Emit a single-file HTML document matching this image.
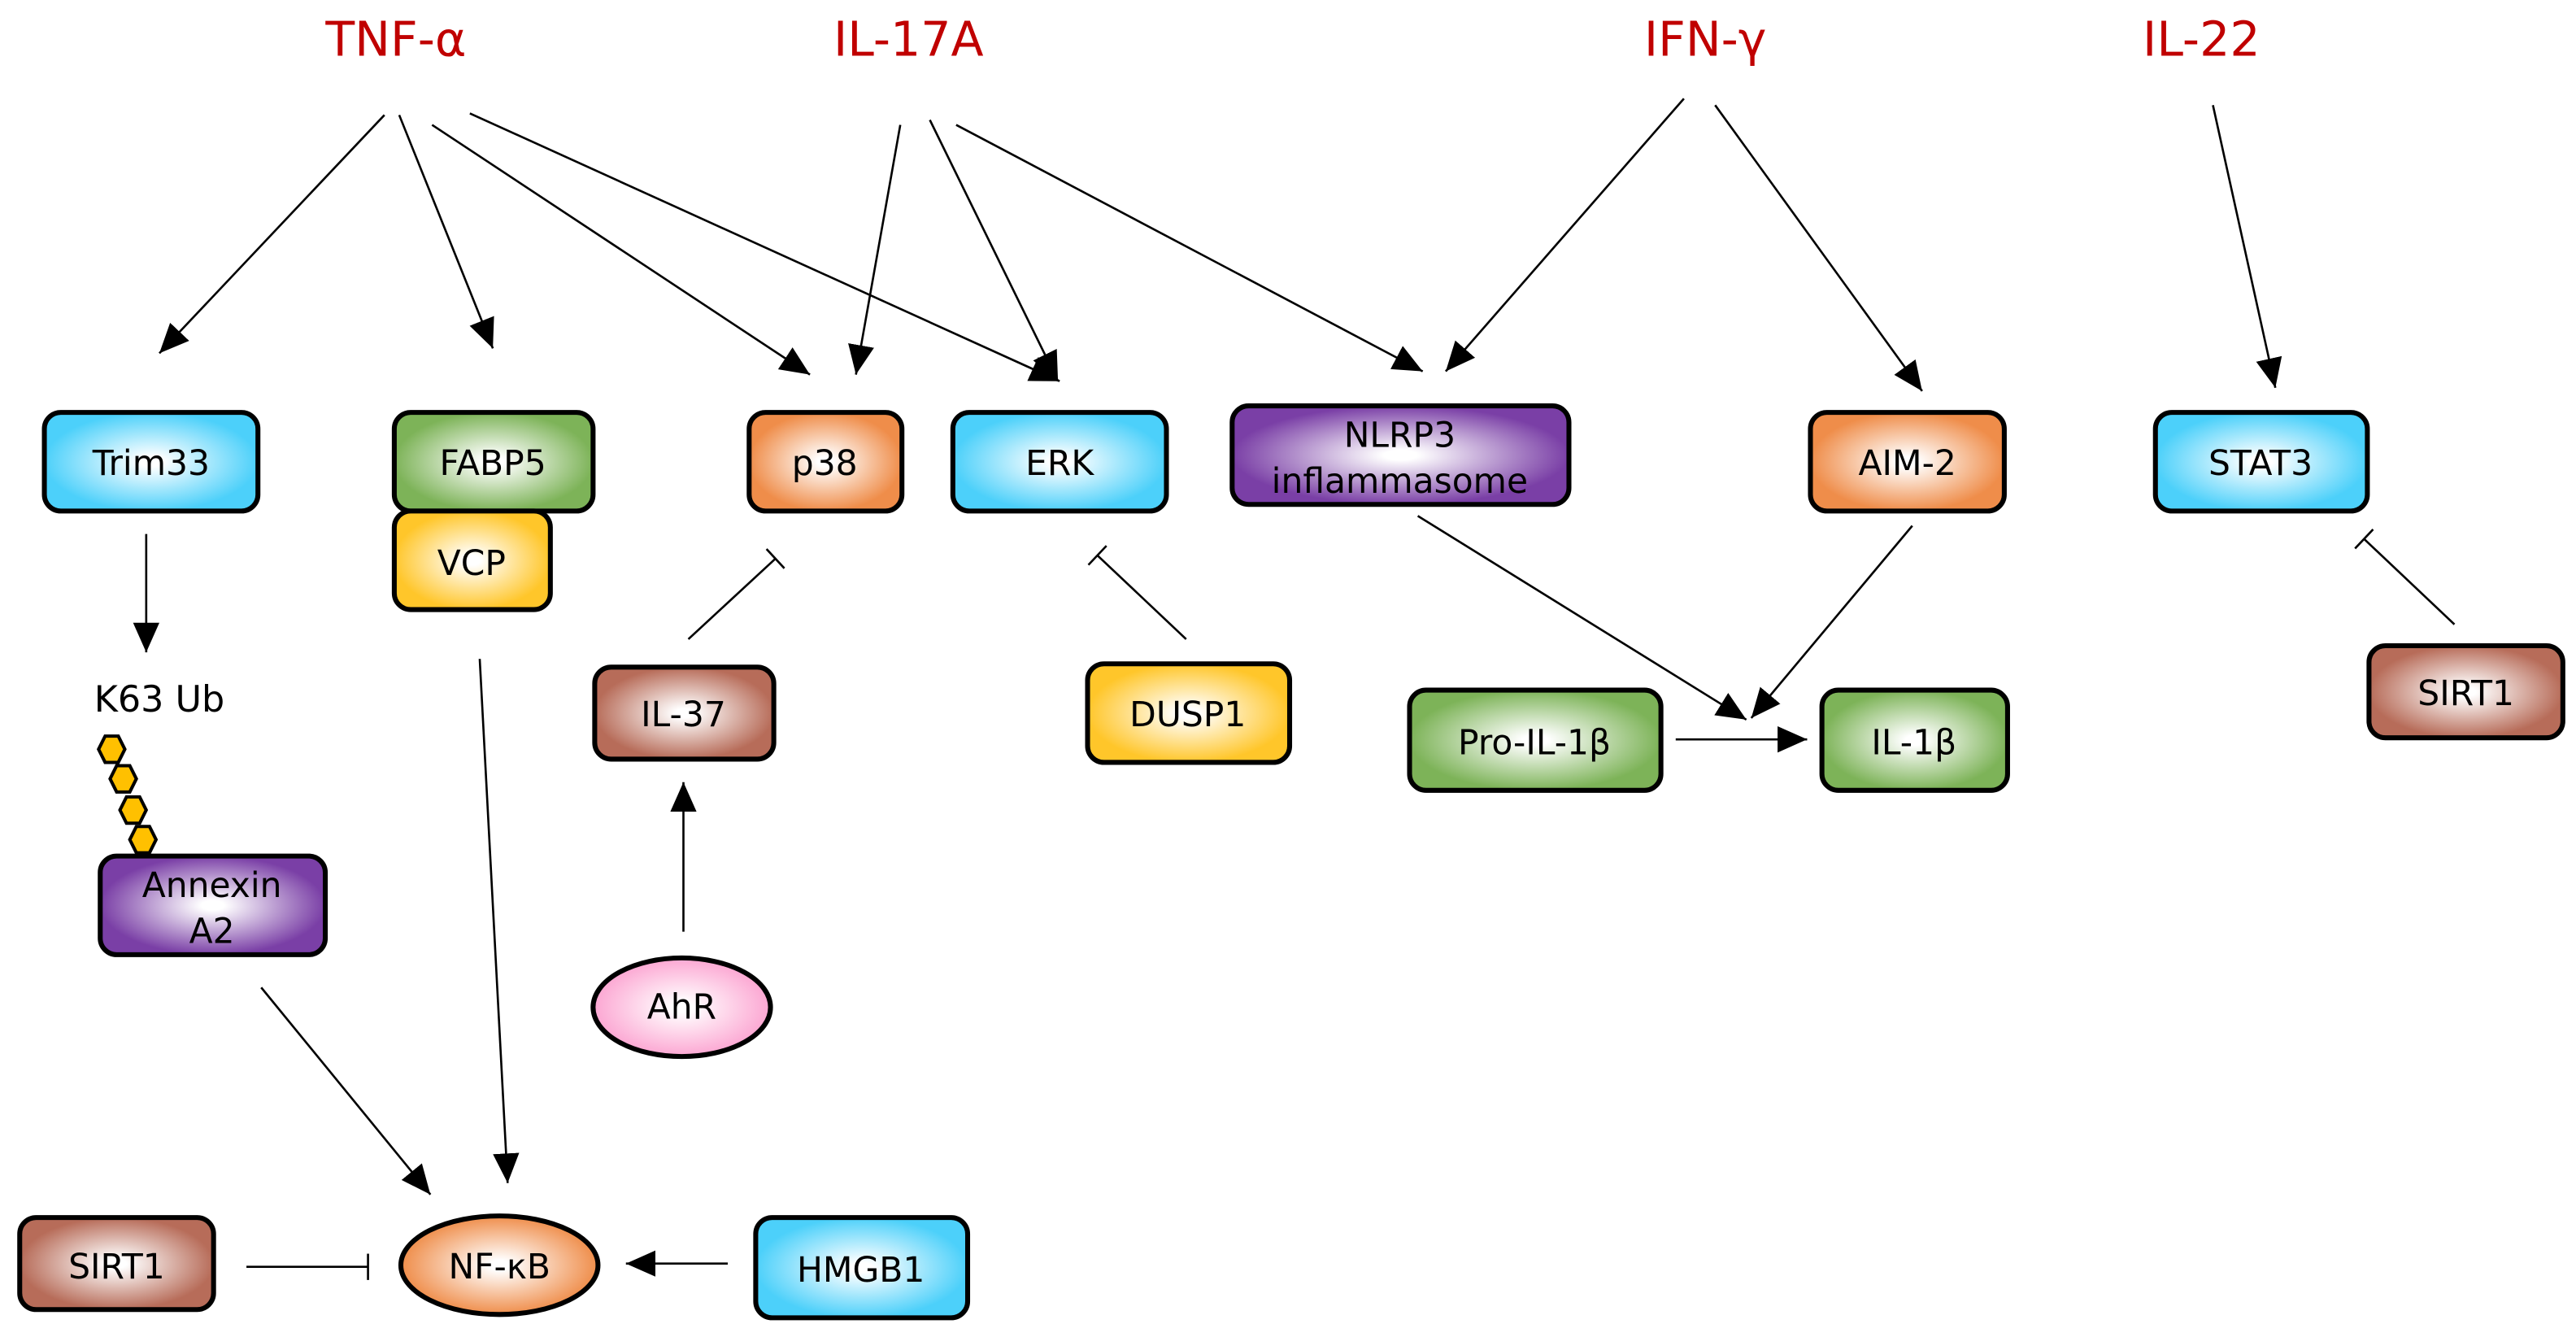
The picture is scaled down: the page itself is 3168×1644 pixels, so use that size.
<!DOCTYPE html>
<html><head><meta charset="utf-8"><style>
html,body{margin:0;padding:0;background:#fff;}
svg{display:block;}
text{font-family:"DejaVu Sans","Liberation Sans",sans-serif;}
</style></head><body>
<svg width="3168" height="1644" viewBox="0 0 1568 813.7" xmlns="http://www.w3.org/2000/svg">
<defs>
<radialGradient id="gB"><stop offset="0.1" stop-color="#fff"/><stop offset="1" stop-color="#4cd0fa"/></radialGradient>
<radialGradient id="gG"><stop offset="0.1" stop-color="#fff"/><stop offset="1" stop-color="#7db358"/></radialGradient>
<radialGradient id="gY"><stop offset="0.1" stop-color="#fff"/><stop offset="1" stop-color="#ffc62a"/></radialGradient>
<radialGradient id="gO"><stop offset="0.1" stop-color="#fff"/><stop offset="1" stop-color="#ef8d4a"/></radialGradient>
<radialGradient id="gP"><stop offset="0.1" stop-color="#fff"/><stop offset="1" stop-color="#7a3fa6"/></radialGradient>
<radialGradient id="gR"><stop offset="0.1" stop-color="#fff"/><stop offset="1" stop-color="#b76c59"/></radialGradient>
<radialGradient id="gK"><stop offset="0.1" stop-color="#fff"/><stop offset="1" stop-color="#fca6d2"/></radialGradient>
<marker id="a" markerUnits="userSpaceOnUse" markerWidth="20" markerHeight="16" refX="18" refY="8" orient="auto"><path d="M0,0 L18,8 L0,16 Z" fill="#000"/></marker>
<marker id="t" markerUnits="userSpaceOnUse" markerWidth="4" markerHeight="20" refX="2" refY="10" orient="auto"><path d="M2,2 L2,18" stroke="#000" stroke-width="1.3"/></marker>
</defs>

<g font-size="29" fill="#c00000" text-anchor="middle">
<text x="241" y="34">TNF-α</text><text x="553" y="34">IL-17A</text><text x="1038" y="34">IFN-γ</text><text x="1340" y="34">IL-22</text>
</g>

<g stroke="#000" stroke-width="1.3" fill="none" marker-end="url(#a)">
<line x1="234" y1="70" x2="97" y2="215"/>
<line x1="243" y1="70" x2="300" y2="212"/>
<line x1="263" y1="76" x2="493" y2="228"/>
<line x1="286" y1="69" x2="645" y2="232"/>
<line x1="548" y1="76" x2="521" y2="228"/>
<line x1="566" y1="73" x2="644" y2="232"/>
<line x1="582" y1="76" x2="866" y2="226"/>
<line x1="1025" y1="60" x2="880" y2="226"/>
<line x1="1044" y1="64" x2="1170" y2="238"/>
<line x1="1347" y1="64" x2="1385" y2="236"/>
<line x1="89" y1="325" x2="89" y2="397"/>
<line x1="292" y1="401" x2="309" y2="720"/>
<line x1="159" y1="601" x2="262" y2="727"/>
<line x1="863" y1="314" x2="1063" y2="438"/>
<line x1="1164" y1="320" x2="1066" y2="437"/>
<line x1="1020" y1="450" x2="1100" y2="450"/>
<line x1="416" y1="567" x2="416" y2="476"/>
<line x1="443" y1="769" x2="381" y2="769"/>
</g>
<g stroke="#000" stroke-width="1.3" fill="none" marker-end="url(#t)">
<line x1="419" y1="389" x2="472" y2="340"/>
<line x1="722" y1="389" x2="668" y2="338"/>
<line x1="1494" y1="380" x2="1439" y2="328"/>
<line x1="150" y1="771" x2="224" y2="771"/>
</g>

<g stroke="#000" stroke-width="3">
<rect x="27" y="251" width="130" height="60" rx="10" fill="url(#gB)"/>
<rect x="240" y="251" width="121" height="60" rx="10" fill="url(#gG)"/>
<rect x="240" y="311" width="95" height="60" rx="10" fill="url(#gY)"/>
<rect x="456" y="251" width="93" height="60" rx="10" fill="url(#gO)"/>
<rect x="580" y="251" width="130" height="60" rx="10" fill="url(#gB)"/>
<rect x="750" y="247" width="205" height="60" rx="10" fill="url(#gP)"/>
<rect x="1102" y="251" width="118" height="60" rx="10" fill="url(#gO)"/>
<rect x="1312" y="251" width="129" height="60" rx="10" fill="url(#gB)"/>
<rect x="362" y="406" width="109" height="56" rx="10" fill="url(#gR)"/>
<rect x="662" y="404" width="123" height="60" rx="10" fill="url(#gY)"/>
<rect x="858" y="420" width="153" height="61" rx="10" fill="url(#gG)"/>
<rect x="1109" y="420" width="113" height="61" rx="10" fill="url(#gG)"/>
<rect x="1442" y="393" width="118" height="56" rx="10" fill="url(#gR)"/>
<rect x="61" y="521" width="137" height="60" rx="10" fill="url(#gP)"/>
<ellipse cx="415" cy="613" rx="54" ry="30" fill="url(#gK)"/>
<rect x="12" y="741" width="118" height="56" rx="10" fill="url(#gR)"/>
<ellipse cx="304" cy="770" rx="60" ry="30" fill="url(#gO)"/>
<rect x="460" y="741" width="129" height="61" rx="10" fill="url(#gB)"/>
</g>
<g fill="#ffc000" stroke="#000" stroke-width="2">
<polygon points="60,456 64,448 72,448 76,456 72,464 64,464"/>
<polygon points="67,474 71,466 79,466 83,474 79,482 71,482"/>
<polygon points="73,493 77,485 85,485 89,493 85,501 77,501"/>
<polygon points="79,511 83,503 91,503 95,511 91,519 83,519"/>
</g>

<g font-size="21" fill="#000" text-anchor="middle">
<text x="92" y="289">Trim33</text>
<text x="300" y="289">FABP5</text>
<text x="287" y="350">VCP</text>
<text x="502" y="289">p38</text>
<text x="645" y="289">ERK</text>
<text x="852" y="272">NLRP3</text>
<text x="852" y="300">inflammasome</text>
<text x="1161" y="289">AIM-2</text>
<text x="1376" y="289">STAT3</text>
<text x="416" y="442">IL-37</text>
<text x="723" y="442">DUSP1</text>
<text x="934" y="459">Pro-IL-1β</text>
<text x="1165" y="459">IL-1β</text>
<text x="1501" y="429">SIRT1</text>
<text x="129" y="546">Annexin</text>
<text x="129" y="574">A2</text>
<text x="415" y="620">AhR</text>
<text x="71" y="778">SIRT1</text>
<text x="304" y="778">NF-κB</text>
<text x="524" y="780">HMGB1</text>
<text x="97" y="433" font-size="22">K63 Ub</text>
</g>
</svg>
</body></html>
